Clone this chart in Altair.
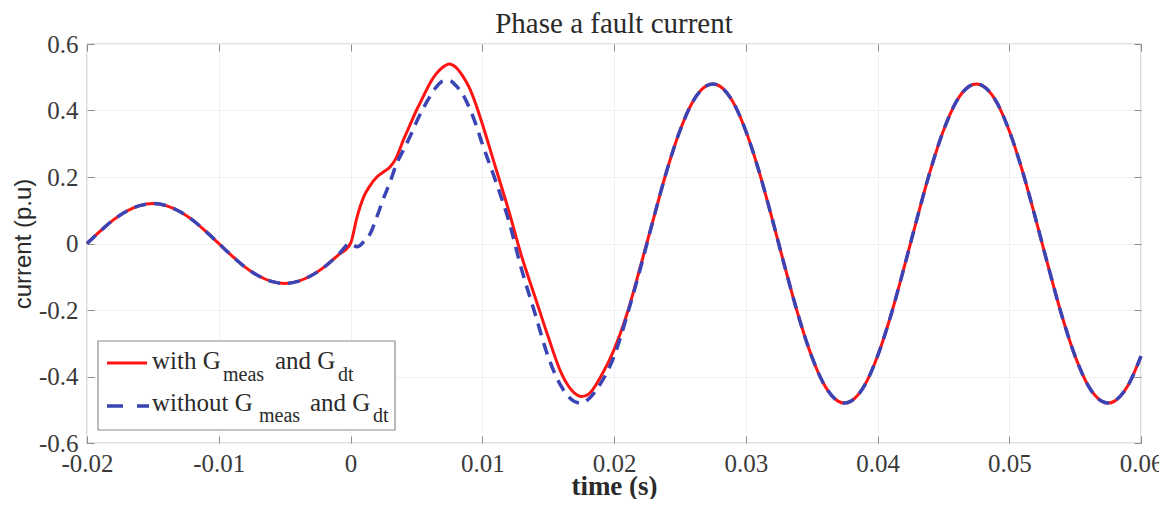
import altair as alt
import pandas as pd

# ---- data ----
time_s = [
    -0.020, -0.019, -0.018, -0.017, -0.016, -0.015, -0.014, -0.013, -0.012, -0.011,
    -0.010, -0.009, -0.008, -0.007, -0.006, -0.005, -0.004, -0.003, -0.002, -0.001,
    0.000, 0.0005, 0.001, 0.0015, 0.002, 0.0025, 0.003, 0.0035, 0.004, 0.0045,
    0.005, 0.0055, 0.006, 0.0065, 0.007, 0.0075, 0.008, 0.0085, 0.009, 0.0095,
    0.010, 0.011, 0.012, 0.013, 0.014, 0.015, 0.016, 0.017, 0.0175, 0.018,
    0.019, 0.020, 0.021, 0.022, 0.023, 0.024, 0.025, 0.026, 0.027, 0.0275,
    0.028, 0.029, 0.030, 0.031, 0.032, 0.033, 0.034, 0.035, 0.036, 0.037,
    0.0375, 0.038, 0.039, 0.040, 0.041, 0.042, 0.043, 0.044, 0.045, 0.046,
    0.047, 0.0475, 0.048, 0.049, 0.050, 0.051, 0.052, 0.053, 0.054, 0.055,
    0.056, 0.057, 0.0575, 0.058, 0.059, 0.060,
]

i_pre = [
    0.0, 0.037, 0.071, 0.097, 0.114, 0.12, 0.114, 0.097, 0.071, 0.037,
    0.0, -0.037, -0.071, -0.097, -0.114, -0.12, -0.114, -0.097, -0.071, -0.037,
    0.0,
]

i_with_fault = [
    0.08, 0.14, 0.175, 0.20, 0.215, 0.23, 0.26, 0.31, 0.355,
    0.40, 0.44, 0.48, 0.51, 0.53, 0.54, 0.53, 0.505, 0.47, 0.42,
    0.36, 0.23, 0.10, -0.04, -0.16, -0.28, -0.39, -0.45, -0.46, -0.455,
    -0.40, -0.32, -0.21, -0.07,
]

i_without_fault = [
    -0.01, 0.005, 0.03, 0.08, 0.135, 0.185, 0.24, 0.28, 0.32,
    0.365, 0.405, 0.44, 0.47, 0.488, 0.49, 0.475, 0.45, 0.41, 0.36,
    0.30, 0.19, 0.07, -0.08, -0.21, -0.34, -0.43, -0.475, -0.48, -0.47,
    -0.42, -0.34, -0.215, -0.075,
]

i_steady = [
    0.075, 0.218, 0.339, 0.428, 0.474, 0.48,
    0.474, 0.428, 0.339, 0.218, 0.075, -0.075, -0.218, -0.339, -0.428, -0.474,
    -0.48, -0.474, -0.428, -0.339, -0.218, -0.075, 0.075, 0.218, 0.339, 0.428,
    0.474, 0.48, 0.474, 0.428, 0.339, 0.218, 0.075, -0.075, -0.218, -0.339,
    -0.428, -0.474, -0.48, -0.474, -0.428, -0.339,
]

i_with = i_pre + i_with_fault + i_steady
i_without = i_pre + i_without_fault + i_steady

x_ticks = [-0.02, -0.01, 0, 0.01, 0.02, 0.03, 0.04, 0.05, 0.06]
y_ticks = [-0.6, -0.4, -0.2, 0, 0.2, 0.4, 0.6]

df_with = pd.DataFrame({"t": time_s, "i": i_with})
df_without = pd.DataFrame({"t": time_s, "i": i_without})

SERIF = "Liberation Serif"
SANS = "Liberation Sans"
RED = "#ff1414"
BLUE = "#3a44b4"
TXT = "#2a2a2a"

xscale = alt.Scale(domain=[-0.02, 0.06], nice=False, zero=False)
yscale = alt.Scale(domain=[-0.6, 0.6], nice=False, zero=False)

lab = "'' + datum.value"

x_bottom = alt.Axis(
    orient="bottom", values=x_ticks, labelExpr=lab, title="time (s)",
    domain=False, ticks=True, tickSize=7, offset=-7, labelPadding=8,
    labelFlush=False, labelOverlap=False,
    grid=True, gridColor="#f0f0f0", titlePadding=-3,
    labelFont=SERIF, labelFontSize=25, labelColor="#3a3a3a",
    titleFont=SERIF, titleFontSize=27, titleFontWeight="bold", titleColor=TXT,
    tickColor="#8c8c8c",
)
y_left = alt.Axis(
    orient="left", values=y_ticks, labelExpr=lab, title="current (p.u)",
    domain=False, ticks=True, tickSize=7, offset=-7, labelPadding=9,
    labelFlush=False, labelOverlap=False,
    grid=True, gridColor="#f0f0f0", titlePadding=3,
    labelFont=SERIF, labelFontSize=25, labelColor="#3a3a3a",
    titleFont=SANS, titleFontSize=24, titleFontWeight="normal", titleColor=TXT,
    tickColor="#8c8c8c",
)
x_top = alt.Axis(
    orient="top", values=x_ticks, labels=False, title=None, domain=False,
    ticks=True, tickSize=7, offset=-7, grid=False, tickColor="#8c8c8c",
)
y_right = alt.Axis(
    orient="right", values=y_ticks, labels=False, title=None, domain=False,
    ticks=True, tickSize=7, offset=-7, grid=False, tickColor="#8c8c8c",
)

line_with = alt.Chart(df_with).mark_line(
    color=RED, strokeWidth=3, interpolate="monotone"
).encode(
    x=alt.X("t:Q", scale=xscale, axis=x_bottom),
    y=alt.Y("i:Q", scale=yscale, axis=y_left),
)

line_without = alt.Chart(df_without).mark_line(
    color=BLUE, strokeWidth=3.5, strokeDash=[12, 8], interpolate="monotone"
).encode(
    x=alt.X("t:Q", scale=xscale, axis=x_top),
    y=alt.Y("i:Q", scale=yscale, axis=y_right),
)

# ---- legend (built by hand to allow subscripts); positions relative to plot origin ----
OX, OY = 87, 44
legend_data = pd.DataFrame({"k": [0]})
base = alt.Chart(legend_data)

leg_box = base.mark_rect(fill="white", stroke="#8c8c8c", strokeWidth=1.2).encode(
    x=alt.value(98 - OX), x2=alt.value(395 - OX),
    y=alt.value(341 - OY), y2=alt.value(430 - OY),
)
leg_red = base.mark_rule(color=RED, strokeWidth=3).encode(
    x=alt.value(107 - OX), x2=alt.value(147 - OX), y=alt.value(363 - OY)
)
leg_blue = base.mark_rule(color=BLUE, strokeWidth=3.5, strokeDash=[16, 14]).encode(
    x=alt.value(107 - OX), x2=alt.value(149 - OX), y=alt.value(406 - OY)
)

legend_texts = [
    ("with G", 152, 369, 25),
    ("meas", 223, 381, 20),
    ("and G", 275, 369, 25),
    ("dt", 338, 381, 20),
    ("without G", 152, 411, 25),
    ("meas", 259, 422, 20),
    ("and G", 310, 411, 25),
    ("dt", 373, 422, 20),
]
text_layers = []
for txt, xx, yy, fs in legend_texts:
    text_layers.append(
        base.mark_text(
            text=txt, font=SERIF, fontSize=fs, color=TXT,
            align="left", baseline="alphabetic",
        ).encode(x=alt.value(xx - OX), y=alt.value(yy - OY))
    )

chart = alt.layer(
    line_with, line_without, leg_box, leg_red, leg_blue, *text_layers
).resolve_axis(
    x="independent", y="independent"
).properties(
    width=1054,
    height=399,
    title=alt.TitleParams(
        "Phase a fault current", font=SERIF, fontSize=29, fontWeight="normal",
        color=TXT, anchor="middle", offset=8, dy=15,
    ),
    padding={"left": 79, "top": 36, "right": 18, "bottom": 56},
    autosize=alt.AutoSizeParams(type="none"),
    background="white",
).configure_view(
    stroke="#8c8c8c", strokeWidth=1.2
)

chart.save("out.html", embed_options={"renderer": "svg", "actions": False})
